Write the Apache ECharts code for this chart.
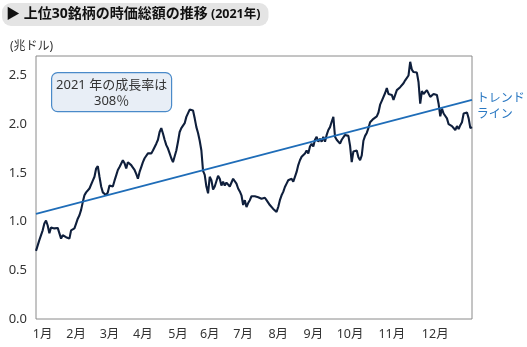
<!DOCTYPE html>
<html><head><meta charset="utf-8">
<script src="https://cdn.jsdelivr.net/npm/echarts@6/dist/echarts.min.js"></script>
<style>html,body{margin:0;padding:0;background:#fff}#c{width:527px;height:347px}</style>
</head><body><div id="c"></div>
<script>
// Month labels and the data index where each label sits
const monthLabels = ['1月','2月','3月','4月','5月','6月','7月','8月','9月','10月','11月','12月'];
const monthTickIndex = [4, 24, 44, 64, 85, 104, 124, 145, 166, 188, 213, 239];

// Market cap of top 30 stocks (trillion USD)
const capJanMar = [
  0.70, 0.72, 0.81, 0.825, 0.91, 0.98, 1.01, 0.96, 0.88, 0.94,
  0.96, 0.93, 0.94, 0.935, 0.93, 0.825, 0.86, 0.88, 0.84, 0.86,
  0.825, 0.91, 0.93, 0.93, 0.98, 1.03, 1.065, 1.12, 1.20, 1.27,
  1.30, 1.32, 1.34, 1.36, 1.42, 1.46, 1.545, 1.57, 1.46, 1.36,
  1.30, 1.30, 1.27, 1.30, 1.37, 1.39
];
const capMarMay = [
  1.36, 1.42, 1.475, 1.53, 1.56, 1.58, 1.63, 1.60, 1.545, 1.61,
  1.61, 1.58, 1.555, 1.53, 1.49, 1.44, 1.51, 1.56, 1.61, 1.65,
  1.665, 1.70, 1.715, 1.70, 1.73, 1.75, 1.80, 1.84, 1.92, 1.96,
  1.905, 1.84, 1.785, 1.75, 1.70, 1.65, 1.61, 1.63, 1.73, 1.82,
  1.92, 1.96, 1.97, 2.01, 2.075, 2.08
];
const capMayJul = [
  2.15, 2.13, 2.14, 2.06, 1.97, 1.91, 1.83, 1.73, 1.52, 1.48,
  1.36, 1.29, 1.46, 1.425, 1.33, 1.36, 1.36, 1.47, 1.44, 1.37,
  1.41, 1.37, 1.40, 1.42, 1.36, 1.38, 1.44, 1.44, 1.39, 1.34,
  1.31, 1.27, 1.17, 1.22, 1.15, 1.19, 1.22, 1.26, 1.26, 1.26,
  1.28, 1.25, 1.24, 1.235, 1.23
];
const capJulSep = [
  1.245, 1.22, 1.20, 1.17, 1.15, 1.13, 1.13, 1.10, 1.15, 1.22,
  1.27, 1.305, 1.355, 1.39, 1.425, 1.44, 1.44, 1.41, 1.46, 1.51,
  1.58, 1.63, 1.665, 1.65, 1.70, 1.73, 1.70, 1.77, 1.80, 1.77,
  1.84, 1.87, 1.82, 1.85, 1.82, 1.87, 1.82, 1.89, 1.94, 1.97,
  2.025, 2.075, 1.87, 1.84, 1.85, 1.80
];
const capSepNov = [
  1.84, 1.83, 1.89, 1.90, 1.88, 1.78, 1.61, 1.72, 1.70, 1.73,
  1.66, 1.63, 1.68, 1.83, 1.88, 1.91, 1.96, 2.02, 2.04, 2.055,
  2.05, 2.08, 2.12, 2.20, 2.24, 2.24, 2.32, 2.37, 2.31, 2.30,
  2.30, 2.25, 2.25, 2.35, 2.34, 2.38, 2.36, 2.42, 2.45, 2.44,
  2.50, 2.64, 2.56, 2.535, 2.54
];
const capNovDec = [
  2.53, 2.43, 2.21, 2.34, 2.31, 2.33, 2.35, 2.33, 2.28, 2.26,
  2.31, 2.33, 2.30, 2.21, 2.08, 2.16, 2.11, 2.12, 2.06, 2.00,
  1.98, 1.98, 1.98, 1.94, 1.98, 1.95, 1.99, 2.02, 2.11, 2.125,
  2.12, 2.06, 1.96, 1.97
];

// Trend line: start and end values
const trendValues = [1.08, 2.25];

const marketCap = [].concat(capJanMar, capMarMay, capMayJul, capJulSep, capSepNov, capNovDec);
const categories = marketCap.map((_, i) => i);

const FONT = '"Noto Sans", "Noto Sans CJK JP", sans-serif';
const chart = echarts.init(document.getElementById('c'), null, {renderer: 'canvas'});
chart.setOption({
  animation: false,
  textStyle: {fontFamily: FONT},
  title: [{
    text: '▶ 上位30銘柄の時価総額の推移{s| (2021年)}',
    left: 2, top: 3,
    padding: [3, 8, 3, 4],
    backgroundColor: '#e4e4e4',
    borderRadius: 9,
    textStyle: {
      fontFamily: FONT, fontSize: 14, fontWeight: 'bold', color: '#111', lineHeight: 17,
      rich: {s: {fontFamily: FONT, fontSize: 12.5, fontWeight: 'bold', color: '#111'}}
    }
  }, {
    text: '(兆ドル)',
    left: 10, top: 41,
    padding: 0,
    textStyle: {fontFamily: FONT, fontSize: 12, fontWeight: 'normal', color: '#333'}
  }],
  grid: {left: 36, right: 55, top: 56, bottom: 28, show: true, borderColor: '#8a8a8a', borderWidth: 1},
  xAxis: {
    type: 'category',
    data: categories,
    boundaryGap: false,
    axisLine: {show: false},
    axisTick: {show: false},
    axisLabel: {
      interval: (idx) => monthTickIndex.includes(idx),
      formatter: (val, idx) => monthLabels[monthTickIndex.indexOf(Number(val))] || '',
      fontSize: 12.5, color: '#333', margin: 9, fontFamily: FONT
    },
    splitLine: {show: false}
  },
  yAxis: {
    type: 'value',
    min: 0, max: 2.7, interval: 0.5,
    axisLine: {show: false},
    axisTick: {show: false},
    splitLine: {show: false},
    axisLabel: {
      showMaxLabel: false,
      formatter: (v) => (Math.abs(v / 0.5 - Math.round(v / 0.5)) < 1e-6 ? v.toFixed(1) : ''),
      fontSize: 13, color: '#333', margin: 9, fontFamily: FONT
    }
  },
  series: [{
    type: 'line',
    data: marketCap,
    symbol: 'none',
    lineStyle: {color: '#0f1f3c', width: 2.1},
    z: 3,
    markLine: {
      silent: true,
      symbol: ['none', 'none'],
      lineStyle: {color: '#1f6db8', width: 1.8, type: 'solid'},
      label: {
        show: true, position: 'end',
        formatter: '\nトレンド\nライン',
        color: '#2a78c2', fontSize: 12, lineHeight: 16, fontFamily: FONT
      },
      data: [[
        {coord: [0, trendValues[0]]},
        {coord: [marketCap.length - 1, trendValues[1]]}
      ]]
    }
  }],
  graphic: [{
    type: 'group', left: 51, top: 72,
    children: [{
      type: 'rect',
      shape: {x: 0, y: 0, width: 120, height: 39, r: 6},
      style: {fill: '#e8eef6', stroke: '#4a8ac9', lineWidth: 1.2}
    }, {
      type: 'text',
      style: {
        x: 60, y: 21, text: '2021 年の成長率は\n308％',
        align: 'center', verticalAlign: 'middle',
        fontSize: 13, lineHeight: 16, fontFamily: FONT, fill: '#333'
      }
    }]
  }]
});
</script>
</body></html>
